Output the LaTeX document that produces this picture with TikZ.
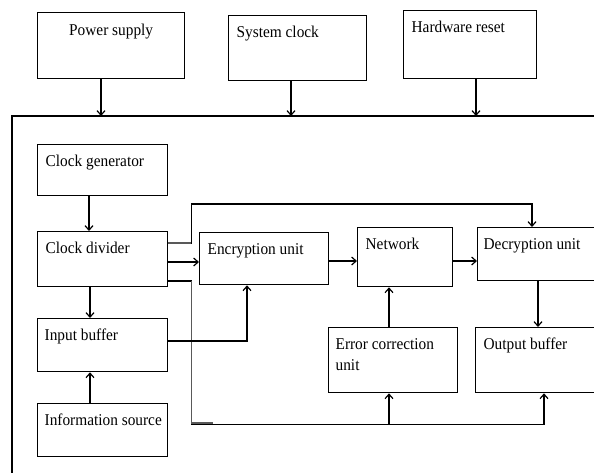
\documentclass[tikz,border=0pt]{standalone}
\usepackage{fontspec}
\setmainfont[FakeStretch=0.93]{Liberation Serif}
\usetikzlibrary{arrows.meta}
\newcommand\bxt[4]{\parbox[b][#2][t]{#1}{\raggedright\hspace*{#3}\rule{0pt}{22pt}#4}}
\newcommand\bxc[3]{\parbox[b][#2][t]{#1}{\centering\rule{0pt}{#3}Power supply}}
\tikzset{
  blk/.style={draw, line width=1.3pt, anchor=north west, inner sep=0pt, font=\fontsize{16.5}{21}\selectfont},
  ln/.style={line width=1.3pt},
  arr/.style={line width=1.3pt, -{Straight Barb[length=4.5pt,width=8pt,line width=1.2pt]}}
}
\begin{document}
\begin{tikzpicture}[x=1pt,y=-1pt]
\useasboundingbox (0,0) rectangle (594,472);
\clip (0,0) rectangle (594,472);
% top boxes
\node[blk] (ps) at (37,12) {\bxc{147pt}{66pt}{23pt}};
\node[blk] (sc) at (228,15) {\bxt{138pt}{65pt}{8pt}{System clock}};
\node[blk] (hr) at (403,10) {\bxt{133pt}{68pt}{8pt}{Hardware reset}};
% frame
\coordinate (ftl) at (12,116);
\coordinate (ftr) at (600,116);
\coordinate (fbl) at (12,480);
\draw[ln] (ftr) -- (ftl) -- (fbl);
% inner boxes
\node[blk] (cg) at (37,144) {\bxt{130pt}{51pt}{8pt}{Clock generator}};
\node[blk] (cd) at (37,231) {\bxt{130pt}{55pt}{8pt}{Clock divider}};
\node[blk] (ib) at (37,318) {\bxt{130pt}{53pt}{7pt}{Input buffer}};
\node[blk] (is) at (37,403) {\bxt{130pt}{53pt}{7pt}{Information source}};
\node[blk] (enc) at (199,232) {\bxt{129pt}{52pt}{8pt}{Encryption unit}};
\node[blk] (net) at (357,227) {\bxt{95pt}{59pt}{8pt}{Network}};
\node[blk] (dec) at (477,227) {\bxt{125pt}{53pt}{6pt}{Decryption unit}};
\node[blk] (ec) at (328,327) {\bxt{129pt}{65pt}{7pt}{Error correction\\\hspace*{7pt}unit}};
\node[blk] (ob) at (475,327) {\bxt{127pt}{65pt}{8pt}{Output buffer}};
% top arrows
\coordinate (psa) at ([xshift=64]ps.south west);
\coordinate (sca) at ([xshift=63]sc.south west);
\coordinate (hra) at ([xshift=73]hr.south west);
\draw[arr] (psa) -- (psa |- ftl);
\draw[arr] (sca) -- (sca |- ftl);
\draw[arr] (hra) -- (hra |- ftl);
% left column
\draw[arr] ([xshift=52]cg.south west) -- ([xshift=52]cd.north west);
\draw[arr] ([xshift=53]cd.south west) -- ([xshift=53]ib.north west);
\draw[arr] ([xshift=53]is.north west) -- ([xshift=53]ib.south west);
% main chain
\coordinate (d1) at ([yshift=-31]cd.north east);
\draw[arr] (d1) -- (d1 -| enc.west);
\coordinate (e1) at ([yshift=-29]enc.north east);
\draw[arr] (e1) -- (e1 -| net.west);
\coordinate (n1) at ([yshift=-34]net.north east);
\draw[arr] (n1) -- (n1 -| dec.west);
% top loop
\coordinate (t0) at ([yshift=-12]cd.north east);
\coordinate (t1) at ([xshift=55]dec.north west);
\draw[arr] (t0) -- ++(23,0) |- ([yshift=23]t1) -- (t1);
\draw[line width=2.8pt, black!65] (t0) -- ++(23,0);
% lower bus
\coordinate (b0) at ([yshift=-50]cd.north east);
\coordinate (ob1) at ([xshift=69]ob.south west);
\coordinate (ec1) at ([xshift=61]ec.south west);
\draw[arr] (b0) -- ++(23,0) |- ([yshift=-31]ob1) -- (ob1);
\draw[line width=1.6pt, black!65] ([xshift=23]b0) -- ++(0,142) -- ++(22,0);
\draw[arr] ([yshift=-31]ec1) -- (ec1);
% input buffer to encryption
\coordinate (i1) at ([yshift=-23]ib.north east);
\coordinate (en1) at ([xshift=48]enc.south west);
\draw[arr] (i1) -| (en1);
% error correction to network
\coordinate (ec2) at ([xshift=61]ec.north west);
\draw[arr] (ec2) -- (ec2 |- net.south);
% decryption to output buffer
\coordinate (dc1) at ([xshift=61]dec.south west);
\draw[arr] (dc1) -- (dc1 |- ob.north);
\end{tikzpicture}
\end{document}
